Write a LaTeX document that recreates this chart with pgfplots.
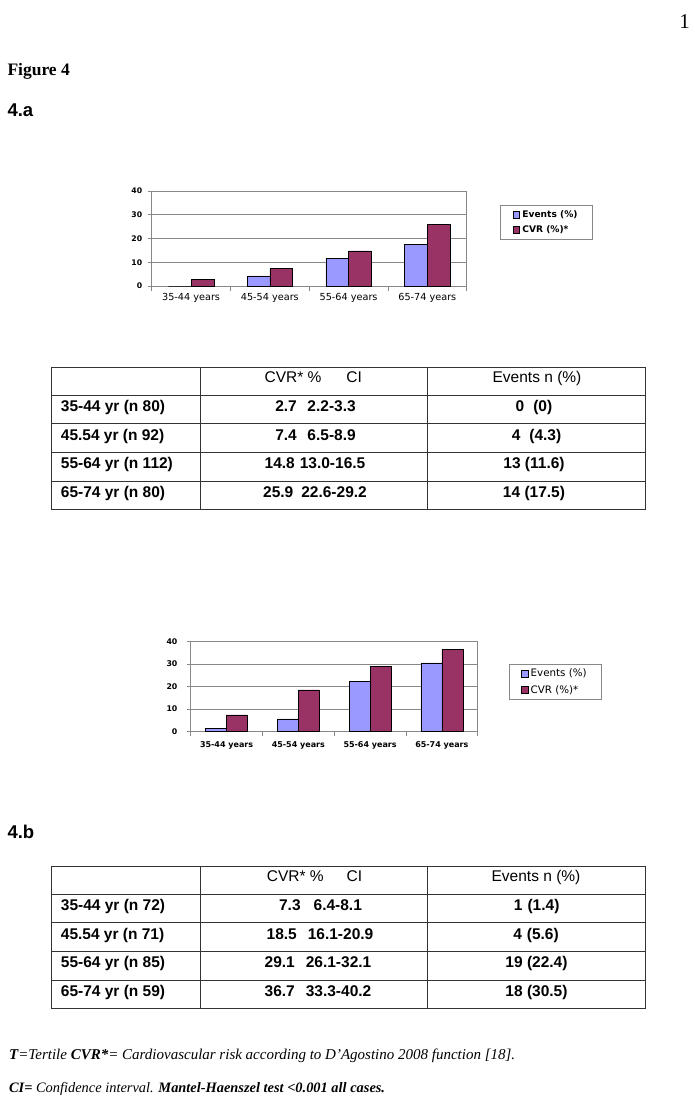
\documentclass[border=0pt]{standalone}
\usepackage{pgfplots}
\pgfplotsset{compat=1.18}
\usepackage{pgfplotstable}
\usepackage{fontspec}
\setmainfont{Liberation Serif}
\newfontfamily\arial{Liberation Sans}
\newfontfamily\verd{DejaVu Sans}
\definecolor{evt}{HTML}{9999FF}
\definecolor{cvr}{HTML}{993366}
\definecolor{frame}{HTML}{888888}
\newcommand\fs[1]{\fontsize{#1}{#1}\selectfont}

% age group index, events (%), CVR (%)
\pgfplotstableread{
x ev cv
0 0 2.7
1 4.3 7.4
2 11.6 14.8
3 17.5 25.9
}\dataA
\pgfplotstableread{
x ev cv
0 1.4 7.3
1 5.6 18.5
2 22.4 29.1
3 30.5 36.7
}\dataB

\pgfplotsset{
  agechart/.style={
    scale only axis, anchor=south west,
    ybar=0pt,
    xmin=-0.5, xmax=3.5, ymin=0, ymax=40,
    xtick={0,1,2,3},
    xticklabels={35-44 years,45-54 years,55-64 years,65-74 years},
    minor xtick={-0.5,0.5,1.5,2.5,3.5},
    ytick={0,10,20,30,40}, yticklabels={0,10,20,30,40},
    xtick pos=left, ytick pos=left,
    tick align=outside,
    major x tick style={draw=none},
    minor x tick style={frame, line width=0.7pt},
    major y tick style={frame, line width=0.7pt},
    major tick length=4pt, minor tick length=5pt,
    ymajorgrids, grid style={frame, line width=0.6pt},
    axis line style={frame, line width=0.8pt},
    legend image code/.code={\draw[#1] (0pt,-3.3pt) rectangle (6.7pt,3.3pt);},
    legend cell align=left,
    legend style={draw=frame, line width=0.6pt, anchor=north west,
      inner xsep=12pt, inner ysep=3pt, row sep=3pt,
      nodes={inner xsep=2.5pt}},
  },
}

\begin{document}
\begin{tikzpicture}
\path[use as bounding box] (0pt,0pt) rectangle (694pt,-1102pt);

% ---------- chart 4.a ----------
\begin{axis}[agechart,
  at={(151.7pt,-286pt)}, width=315pt, height=95pt,
  bar width=22.7pt,
  x tick label style={font=\verd\fs{9.7}, anchor=base, yshift=-10.7pt},
  y tick label style={font=\verd\bfseries\fs{7.7}, xshift=-2pt},
  legend style={at={(1.107,0.853)}, font=\verd\bfseries\fs{9.1}},
]
\addplot[fill=evt, draw=black, line width=0.5pt] table[x=x, y=ev] {\dataA};
\addplot[fill=cvr, draw=black, line width=0.5pt] table[x=x, y=cv] {\dataA};
\legend{Events (\%),CVR (\%)*}
\end{axis}

% ---------- chart 4.b ----------
\begin{axis}[agechart,
  at={(190.7pt,-731.3pt)}, width=287pt, height=89.6pt,
  bar width=21pt,
  x tick label style={font=\verd\bfseries\fs{8}, anchor=base, yshift=-12pt},
  y tick label style={font=\verd\bfseries\fs{7.8}, xshift=-5.8pt},
  legend style={at={(1.108,0.7545)}, font=\verd\fs{10.3}},
]
\addplot[fill=evt, draw=black, line width=0.5pt] table[x=x, y=ev] {\dataB};
\addplot[fill=cvr, draw=black, line width=0.5pt] table[x=x, y=cv] {\dataB};
\legend{Events (\%),CVR (\%)*}
\end{axis}

\begin{scope}[x=1pt, y=-1pt]
\tikzset{tab/.style={draw=black!80, line width=0.9pt},
  c/.style={anchor=base, inner sep=0pt, font=\arial\bfseries\fs{15.5}},
  h/.style={anchor=base, inner sep=0pt, font=\arial\fs{15.5}},
  l/.style={anchor=base west, inner sep=0pt, font=\arial\bfseries\fs{15.5}}}

% page texts
\node[anchor=base east, inner sep=0pt, font=\fs{21}] at (690,29) {1};
\node[anchor=base west, inner sep=0pt, font=\bfseries\fs{17.5}] at (7.3,76) {Figure 4};
\node[anchor=base west, inner sep=0pt, font=\arial\bfseries\fs{18.5}] at (7.3,116.7) {4.a};
\node[anchor=base west, inner sep=0pt, font=\arial\bfseries\fs{18.5}] at (7.3,838) {4.b};

% ---------- table 4.a ----------
\draw[tab] (51.7,367.3) rectangle (645,509);
\foreach \yy in {395.3,423.7,452.3,481} \draw[tab] (51.7,\yy) -- (645,\yy);
\draw[tab] (200,367.3) -- (200,509);
\draw[tab] (427.7,367.3) -- (427.7,509);
\node[h] at (313.3,382.8) {CVR* \%\hspace{25pt}CI};
\node[h] at (537,382.8) {Events n (\%)};
\node[l] at (60.7,411.6) {35-44 yr (n 80)};
\node[l] at (60.7,440) {45.54 yr (n 92)};
\node[l] at (60.7,468.6) {55-64 yr (n 112)};
\node[l] at (60.7,497.3) {65-74 yr (n 80)};
\node[c] at (315.5,411.6) {2.7\hspace{10.7pt}2.2-3.3};
\node[c] at (315.5,440) {7.4\hspace{10.7pt}6.5-8.9};
\node[c] at (315,468.6) {14.8\hspace{5pt}13.0-16.5};
\node[c] at (315,497.3) {25.9\hspace{8pt}22.6-29.2};
\node[c] at (534,411.6) {0\hspace{9pt}(0)};
\node[c] at (536.5,440) {4\hspace{9pt}(4.3)};
\node[c] at (534,468.6) {13 (11.6)};
\node[c] at (534,497.3) {14 (17.5)};

% ---------- table 4.b ----------
\draw[tab] (51.7,866) rectangle (645,1008.3);
\foreach \yy in {894,922.7,951.3,980} \draw[tab] (51.7,\yy) -- (645,\yy);
\draw[tab] (200,866) -- (200,1008.3);
\draw[tab] (427.7,866) -- (427.7,1008.3);
\node[h] at (314.5,881.5) {CVR* \%\hspace{23pt}CI};
\node[h] at (536,881.5) {Events n (\%)};
\node[l] at (60.7,910.3) {35-44 yr (n 72)};
\node[l] at (60.7,939) {45.54 yr (n 71)};
\node[l] at (60.7,967.6) {55-64 yr (n 85)};
\node[l] at (60.7,996.3) {65-74 yr (n 59)};
\node[c] at (320.5,910.3) {7.3\hspace{13pt}6.4-8.1};
\node[c] at (320,939) {18.5\hspace{11pt}16.1-20.9};
\node[c] at (318,967.6) {29.1\hspace{11pt}26.1-32.1};
\node[c] at (318,996.3) {36.7\hspace{11pt}33.3-40.2};
\node[c] at (536.7,910.3) {1\hspace{5pt}(1.4)};
\node[c] at (536,939) {4\hspace{5pt}(5.6)};
\node[c] at (536.5,967.6) {19 (22.4)};
\node[c] at (536.5,996.3) {18 (30.5)};

% footnotes
\node[anchor=base west, inner sep=0pt, font=\itshape\fs{15}] at (8.9,1059)
  {\textbf{T}=Tertile \textbf{CVR*}= Cardiovascular risk according to D’Agostino 2008 function [18].};
\node[anchor=base west, inner sep=0pt, font=\itshape\fs{14.4}] at (8.9,1092)
  {\textbf{CI=} Confidence interval. \textbf{Mantel-Haenszel test <0.001 all cases.}};
\end{scope}
\end{tikzpicture}
\end{document}
